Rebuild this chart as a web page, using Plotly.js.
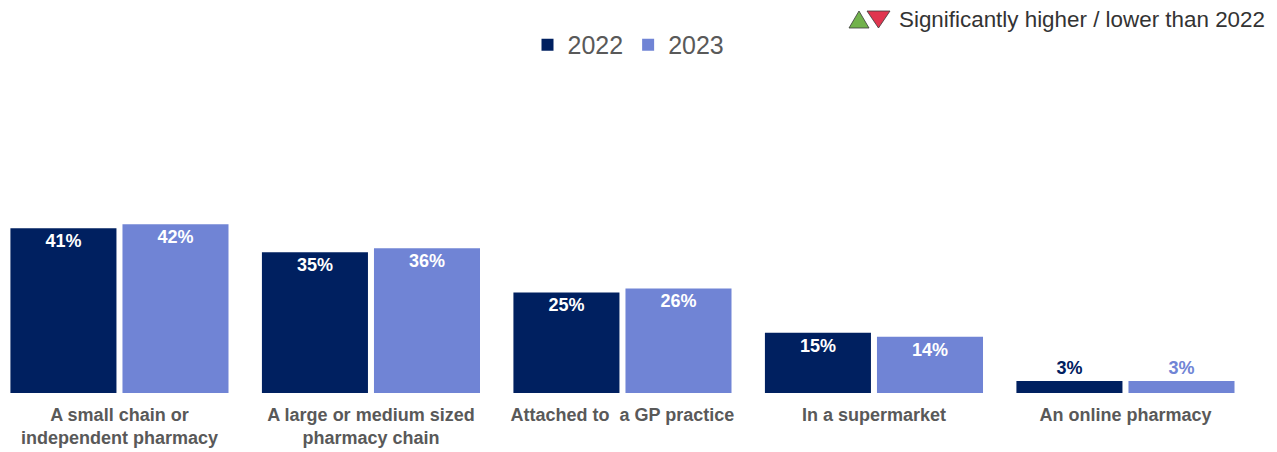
<!DOCTYPE html>
<html>
<head>
<meta charset="utf-8">
<script src="https://cdn.plot.ly/plotly-3.0.1.min.js"></script>
<style>html,body{margin:0;padding:0;background:#fff;}#chart{width:1277px;height:452px;}</style>
</head>
<body>
<div id="chart"></div>
<script>
const categories = [
  "A small chain or<br>independent pharmacy",
  "A large or medium sized<br>pharmacy chain",
  "Attached to\u00a0\u00a0a GP practice",
  "In a supermarket",
  "An online pharmacy"
];
const series2022 = [41, 35, 25, 15, 3];
const series2023 = [42, 36, 26, 14, 3];
const seriesNames = ["2022", "2023"];
const colors = ["#002060", "#7084d5"];

function labelPos(vals){ return vals.map(v => v < 8 ? "outside" : "inside"); }
function labelColor(vals, c){ return vals.map(v => v < 8 ? c : "#ffffff"); }

const traces = [series2022, series2023].map((vals, i) => ({
  type: "bar",
  name: seriesNames[i],
  x: categories,
  y: vals,
  marker: {color: colors[i]},
  text: vals.map(v => v + "%"),
  textposition: labelPos(vals),
  insidetextanchor: "end",
  textangle: 0,
  constraintext: "none",
  cliponaxis: false,
  textfont: {family: "Liberation Sans, Arial, sans-serif", size: 18, color: labelColor(vals, colors[i]), weight: "bold"},
  hoverinfo: "skip"
}));

// legend-key triangles for the significance note (decoration, pixel-anchored to the paper's top-right corner)
const triGreen = {type: "path", xref: "paper", yref: "paper", xsizemode: "pixel", ysizemode: "pixel",
  xanchor: 1, yanchor: 1,
  path: "M -408 12 L -398 29 L -388 12 Z",
  fillcolor: "#72b24c", line: {color: "#3a3a3a", width: 0.8}};
const triRed = {type: "path", xref: "paper", yref: "paper", xsizemode: "pixel", ysizemode: "pixel",
  xanchor: 1, yanchor: 1,
  path: "M -390 29 L -367 29 L -378.5 12 Z",
  fillcolor: "#e0354f", line: {color: "#3a3a3a", width: 0.8}};

const layout = {
  width: 1277, height: 452,
  paper_bgcolor: "#ffffff", plot_bgcolor: "#ffffff",
  margin: {l: 0, r: 20, t: 40, b: 59},
  barmode: "group",
  bargap: 0.109,
  bargroupgap: 0.0536,
  font: {family: "Liberation Sans, Arial, sans-serif", color: "#595959"},
  xaxis: {
    range: [-0.475, 4.523],
    showgrid: false, zeroline: false, showline: false, ticks: "",
    tickfont: {size: 18, color: "#595959", weight: "bold"},
    ticklabelstandoff: 9
  },
  yaxis: {
    range: [0, 87.8], visible: false, showgrid: false, zeroline: false
  },
  showlegend: true,
  legend: {
    orientation: "h", x: 0.5, xanchor: "center", y: 0.986, yanchor: "middle",
    font: {size: 25, color: "#595959"},
    itemwidth: 30, traceorder: "normal"
  },
  shapes: [triGreen, triRed],
  annotations: [{
    xref: "paper", yref: "paper", x: 1.008, y: 1.058, xanchor: "right", yanchor: "middle",
    showarrow: false,
    text: 'Significantly higher / lower than 2022',
    font: {size: 22.4, color: "#333333"}
  }]
};

Plotly.newPlot("chart", traces, layout, {displayModeBar: false, staticPlot: true});
</script>
</body>
</html>
